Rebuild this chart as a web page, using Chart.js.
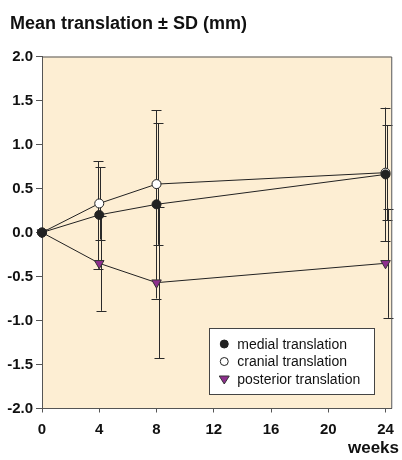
<!DOCTYPE html>
<html>
<head>
<meta charset="utf-8">
<script src="https://cdn.jsdelivr.net/npm/chart.js@4"></script>
<style>
  html, body { margin: 0; padding: 0; background: #ffffff; }
  #wrap { width: 402px; height: 460px; }
</style>
</head>
<body>
<div id="wrap"><canvas id="chart" width="402" height="460"></canvas></div>
<script>
// --- DATA ---
const weeks = [0, 4, 8, 24];
const xTicks = [0, 4, 8, 12, 16, 20, 24];
const yTicks = [-2.0, -1.5, -1.0, -0.5, 0.0, 0.5, 1.0, 1.5, 2.0];

const seriesLabels = ["medial translation", "cranial translation", "posterior translation"];
const medialMean = [0, 0.20, 0.32, 0.66];
const medialSD = [0, 0.61, 1.07, 0.76];
const cranialMean = [0, 0.33, 0.55, 0.68];
const cranialSD = [0, 0.41, 0.69, 0.54];
const posteriorMean = [0, -0.35, -0.57, -0.35];
const posteriorSD = [0, 0.54, 0.86, 0.62];

const FONT = "'Liberation Sans', Arial, Helvetica, sans-serif";
const INK = "#222222";
const PURPLE = "#8e2f8e";
const PANEL = "#fdeed3";

function points(means) {
  return weeks.map((w, i) => ({ x: w, y: means[i] }));
}

// small pixel nudges so overlapping SD bars stay visible side by side
const barNudge = [-1, 1, 2];
const sds = [medialSD, cranialSD, posteriorSD];
const means = [medialMean, cranialMean, posteriorMean];

// --- PLUGINS ---
const panelPlugin = {
  id: "panel",
  beforeDraw(chart) {
    const { ctx, chartArea: a } = chart;
    ctx.save();
    ctx.fillStyle = PANEL;
    ctx.fillRect(a.left, a.top, a.right - a.left, a.bottom - a.top);
    ctx.restore();
  },
  afterDraw(chart) {
    const { ctx, chartArea: a } = chart;
    ctx.save();
    // top and right frame
    ctx.strokeStyle = "#555555";
    ctx.lineWidth = 1;
    ctx.beginPath();
    ctx.moveTo(a.left, a.top + 0.5);
    ctx.lineTo(a.right + 0.5, a.top + 0.5);
    ctx.lineTo(a.right + 0.5, a.bottom);
    ctx.stroke();

    // title + axis name
    ctx.fillStyle = "#111111";
    ctx.font = "bold 18px " + FONT;
    ctx.textBaseline = "alphabetic";
    ctx.textAlign = "left";
    ctx.fillText("Mean translation \u00b1 SD (mm)", 10, 29);
    ctx.font = "bold 17px " + FONT;
    ctx.textAlign = "right";
    ctx.fillText("weeks", 399, 453);
    ctx.restore();
  }
};

const errorBarPlugin = {
  id: "errorBars",
  beforeDatasetsDraw(chart) {
    const { ctx, scales: { x, y } } = chart;
    ctx.save();
    ctx.strokeStyle = "#2a2a2a";
    ctx.lineWidth = 1;
    sds.forEach((sd, s) => {
      weeks.forEach((w, i) => {
        if (!sd[i]) return;
        const px = Math.round(x.getPixelForValue(w) + barNudge[s]) + 0.5;
        const top = y.getPixelForValue(means[s][i] + sd[i]);
        const bot = y.getPixelForValue(means[s][i] - sd[i]);
        ctx.beginPath();
        ctx.moveTo(px, top);
        ctx.lineTo(px, bot);
        ctx.moveTo(px - 5, Math.round(top) + 0.5);
        ctx.lineTo(px + 5, Math.round(top) + 0.5);
        ctx.moveTo(px - 5, Math.round(bot) + 0.5);
        ctx.lineTo(px + 5, Math.round(bot) + 0.5);
        ctx.stroke();
      });
    });
    ctx.restore();
  }
};

function drawMarker(ctx, ds, cx, cy, r) {
  ctx.beginPath();
  if (ds.pointStyle === "triangle") {
    ctx.moveTo(cx - r, cy - r * 0.6);
    ctx.lineTo(cx + r, cy - r * 0.6);
    ctx.lineTo(cx, cy + r);
    ctx.closePath();
  } else {
    ctx.arc(cx, cy, r, 0, Math.PI * 2);
  }
  ctx.fillStyle = ds.pointBackgroundColor;
  ctx.fill();
  ctx.strokeStyle = ds.pointBorderColor;
  ctx.lineWidth = 1;
  ctx.stroke();
}

const legendPlugin = {
  id: "boxLegend",
  afterDatasetsDraw(chart) {
    const { ctx, chartArea: a } = chart;
    const w = 165, h = 66;
    const left = a.right - 17 - w;
    const top = a.bottom - 14.5 - h;
    ctx.save();
    ctx.fillStyle = "#ffffff";
    ctx.fillRect(left, top, w, h);
    ctx.strokeStyle = "#444444";
    ctx.lineWidth = 1;
    ctx.strokeRect(Math.round(left) + 0.5, Math.round(top) + 0.5, w, h);
    ctx.font = "14px " + FONT;
    ctx.textBaseline = "middle";
    ctx.textAlign = "left";
    chart.data.datasets.forEach((ds, i) => {
      const cy = top + 16 + i * 17.5;
      drawMarker(ctx, ds, left + 15, cy, ds.pointStyle === "triangle" ? 5 : 4);
      ctx.fillStyle = "#111111";
      ctx.fillText(ds.label, left + 28, cy + 1);
    });
    ctx.restore();
  }
};

// --- CHART ---
new Chart(document.getElementById("chart").getContext("2d"), {
  type: "line",
  data: {
    datasets: [
      {
        label: seriesLabels[0],
        data: points(medialMean),
        borderColor: INK,
        borderWidth: 1,
        pointStyle: "circle",
        pointRadius: 4.5,
        pointBackgroundColor: INK,
        pointBorderColor: INK,
        pointBorderWidth: 1,
        clip: false
      },
      {
        label: seriesLabels[1],
        data: points(cranialMean),
        borderColor: INK,
        borderWidth: 1,
        pointStyle: "circle",
        pointRadius: 4.5,
        pointBackgroundColor: "#ffffff",
        pointBorderColor: INK,
        pointBorderWidth: 1,
        clip: false
      },
      {
        label: seriesLabels[2],
        data: points(posteriorMean),
        borderColor: INK,
        borderWidth: 1,
        pointStyle: "triangle",
        pointRotation: 180,
        pointRadius: 5.5,
        pointBackgroundColor: PURPLE,
        pointBorderColor: "#333333",
        pointBorderWidth: 1,
        clip: false
      }
    ]
  },
  options: {
    responsive: false,
    animation: false,
    layout: { padding: { top: 56.5, right: 8, left: 0, bottom: 0 } },
    plugins: {
      legend: { display: false },
      title: { display: false },
      tooltip: { enabled: false }
    },
    elements: { line: { tension: 0 } },
    scales: {
      x: {
        type: "linear",
        min: 0,
        max: 24.4,
        afterBuildTicks: (scale) => { scale.ticks = xTicks.map(v => ({ value: v })); },
        afterFit: (scale) => { scale.height = 51.5; },
        border: { display: true, color: "#555555", width: 1 },
        grid: { display: true, drawOnChartArea: false, drawTicks: true, tickLength: 4, color: "#555555" },
        ticks: {
          padding: 8,
          color: "#111111",
          font: { family: FONT, size: 15, weight: "bold" },
          maxRotation: 0
        }
      },
      y: {
        type: "linear",
        min: -2,
        max: 2,
        afterBuildTicks: (scale) => { scale.ticks = yTicks.map(v => ({ value: v })); },
        afterFit: (scale) => { scale.width = 42; },
        border: { display: true, color: "#555555", width: 1 },
        grid: { display: true, drawOnChartArea: false, drawTicks: true, tickLength: 6, color: "#555555" },
        ticks: {
          padding: 3,
          color: "#111111",
          font: { family: FONT, size: 15, weight: "bold" },
          callback: (v) => Number(v).toFixed(1)
        }
      }
    }
  },
  plugins: [panelPlugin, errorBarPlugin, legendPlugin]
});
</script>
</body>
</html>
